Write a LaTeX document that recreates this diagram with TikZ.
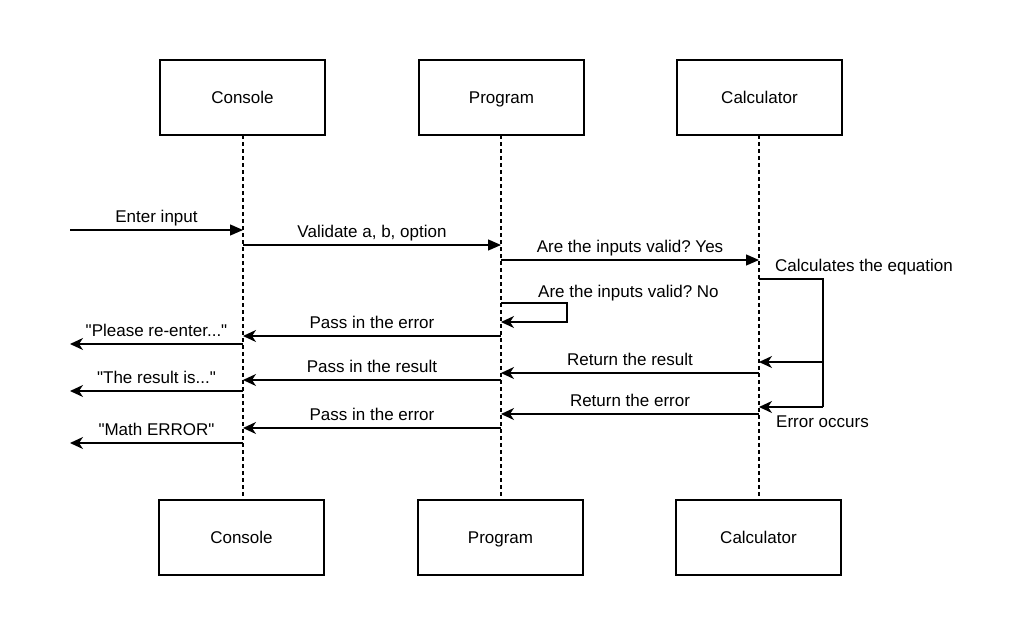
\documentclass[tikz,border=0pt]{standalone}
\usepackage{fontspec}
\setmainfont{Liberation Sans}[Ligatures=TeXOff]
\usetikzlibrary{arrows.meta}
\frenchspacing
\begin{document}
\begin{tikzpicture}[x=1pt,y=-1pt,
  every node/.style={font=\fontsize{17}{20}\selectfont},
  actor/.style={draw,line width=1.3pt,minimum width=165pt,minimum height=75pt,inner sep=0pt,text height=12pt,text depth=0pt},
  life/.style={line width=1.2pt,dash pattern=on 4pt off 3pt},
  msgb/.style={line width=1.3pt,-{Triangle[length=13pt,width=11pt]}},
  msgs/.style={line width=1.3pt,-{Stealth[length=13pt,width=12pt,inset=4pt]}},
  lbl/.style={anchor=base,inner sep=0pt,yshift=8pt},
  lbll/.style={anchor=base west,inner sep=0pt}]
\useasboundingbox (0,0) rectangle (1022,637);
% actors
\node[actor] (cT) at (242.5,97.5) {Console};
\node[actor] (pT) at (501.5,97.5) {Program};
\node[actor] (kT) at (759.5,97.5) {Calculator};
\node[actor] (cB) at (241.5,537.5) {Console};
\node[actor] (pB) at (500.5,537.5) {Program};
\node[actor] (kB) at (758.5,537.5) {Calculator};
% lifelines
\draw[life] (243,135) -- (243,500);
\draw[life] (501,135) -- (501,500);
\draw[life] (759,135) -- (759,500);
% points
\coordinate (in0) at (70,230);  \coordinate (c1) at (243,230);
\coordinate (c2) at (243,245);  \coordinate (p2) at (501,245);
\coordinate (p3) at (501,260);  \coordinate (k3) at (759,260);
\coordinate (k4) at (759,279);  \coordinate (r4) at (823,279);
\coordinate (r5) at (823,362);  \coordinate (k5) at (759,362);
\coordinate (r6) at (823,407);  \coordinate (k6) at (759,407);
\coordinate (p7) at (501,303);  \coordinate (q7) at (567,303);
\coordinate (q8) at (567,322);  \coordinate (p8) at (501,322);
\coordinate (p9) at (501,336);  \coordinate (c9) at (243,336);
\coordinate (c10) at (243,344); \coordinate (o10) at (70,344);
\coordinate (k11) at (759,373); \coordinate (p11) at (501,373);
\coordinate (p12) at (501,380); \coordinate (c12) at (243,380);
\coordinate (c13) at (243,391); \coordinate (o13) at (70,391);
\coordinate (k14) at (759,414); \coordinate (p14) at (501,414);
\coordinate (p15) at (501,428); \coordinate (c15) at (243,428);
\coordinate (c16) at (243,443); \coordinate (o16) at (70,443);
% messages
\draw[msgb] (in0) -- node[lbl]{Enter input} (c1);
\draw[msgb] (c2) -- node[lbl]{Validate a, b, option} (p2);
\draw[msgb] (p3) -- node[lbl]{Are the inputs valid? Yes} (k3);
\draw[line width=1.3pt] (k4) -- (r4) -- (r6);
\draw[msgs] (r5) -- (k5);
\draw[msgs] (r6) -- (k6);
\node[lbll] (lcalc) at (775,271) {Calculates the equation};
\node[lbll] (lerr) at (776,427) {Error occurs};
\draw[msgs] (p7) -- (q7) -- (q8) -- (p8);
\node[lbll] (lno) at (538,297) {Are the inputs valid? No};
\draw[msgs] (p9) -- node[lbl]{Pass in the error} (c9);
\draw[msgs] (c10) -- node[lbl]{"Please re-enter..."} (o10);
\draw[msgs] (k11) -- node[lbl]{Return the result} (p11);
\draw[msgs] (p12) -- node[lbl]{Pass in the result} (c12);
\draw[msgs] (c13) -- node[lbl]{"The result is..."} (o13);
\draw[msgs] (k14) -- node[lbl]{Return the error} (p14);
\draw[msgs] (p15) -- node[lbl]{Pass in the error} (c15);
\draw[msgs] (c16) -- node[lbl]{"Math ERROR"} (o16);
\end{tikzpicture}
\end{document}
